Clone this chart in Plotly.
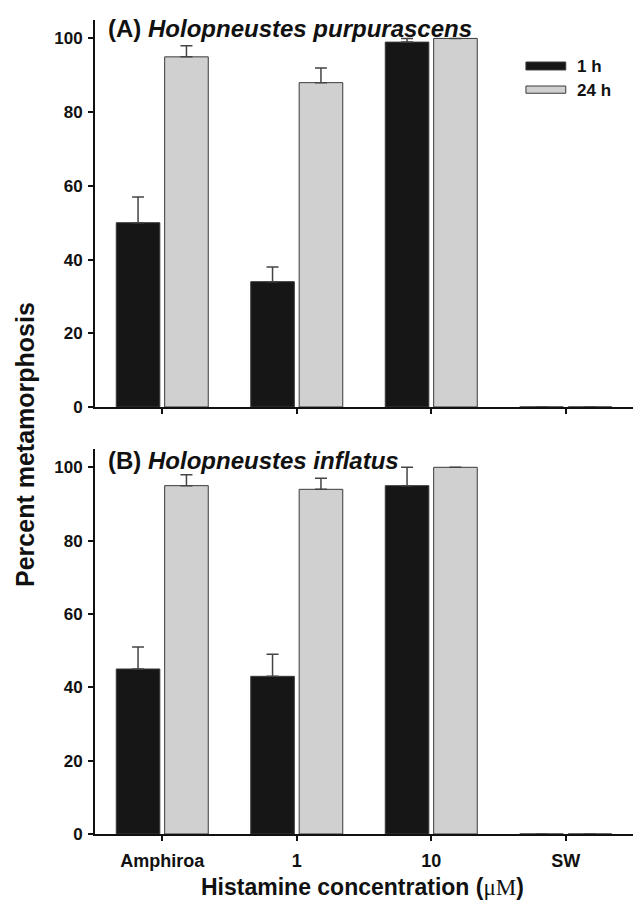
import plotly.graph_objects as go

categories = ["Amphiroa", "1", "10", "SW"]
series_names = ["1 h", "24 h"]

# Panel A: Holopneustes purpurascens (None = no error bar drawn)
a_1h = [50, 34, 99, 0]
a_1h_err = [7, 4, 1, None]
a_24h = [95, 88, 100, 0]
a_24h_err = [3, 4, None, None]

# Panel B: Holopneustes inflatus
b_1h = [45, 43, 95, 0]
b_1h_err = [6, 6, 5, None]
b_24h = [95, 94, 100, 0]
b_24h_err = [3, 3, None, None]

yticks = [0, 20, 40, 60, 80, 100]

BLACK = "#161616"
GREY = "#d0d0d0"
EDGE = "#3a3a3a"
FONT = "Liberation Sans, Arial, sans-serif"

fig = go.Figure()

def add_bars(vals, errs, color, xa, ya, name):
    fig.add_trace(go.Bar(
        x=categories, y=vals, name=name, xaxis=xa, yaxis=ya,
        marker=dict(color=color, line=dict(color=EDGE, width=1)),
        error_y=dict(type="data", array=errs, arrayminus=[0]*len(errs),
                     symmetric=False, color="#444444", thickness=1.5, width=6),
        showlegend=False,
    ))

add_bars(a_1h, a_1h_err, BLACK, "x", "y", series_names[0])
add_bars(a_24h, a_24h_err, GREY, "x", "y", series_names[1])
add_bars(b_1h, b_1h_err, BLACK, "x2", "y2", series_names[0])
add_bars(b_24h, b_24h_err, GREY, "x2", "y2", series_names[1])

def axis_common(size):
    return dict(showline=True, linecolor="#111111", linewidth=2,
                ticks="outside", ticklen=5, tickwidth=1.5, tickcolor="#111111",
                showgrid=False, zeroline=False,
                tickfont=dict(family=FONT, size=size, color="#111111", weight="bold"))

fig.update_layout(
    width=635, height=902,
    margin=dict(l=95, r=2, t=20, b=68),
    paper_bgcolor="white", plot_bgcolor="white",
    barmode="group", bargap=0.28, bargroupgap=0.1,
    font=dict(family=FONT, color="#111111"),
    xaxis=dict(domain=[0, 1], anchor="y", range=[-0.5, 3.5], type="category",
               showticklabels=False, **axis_common(18)),
    yaxis=dict(domain=[0.5246, 1.0], anchor="x", range=[0, 105],
               tickvals=yticks, ticklabelstandoff=2, **axis_common(17)),
    xaxis2=dict(domain=[0, 1], anchor="y2", range=[-0.5, 3.5], type="category",
                ticklabelstandoff=4, **axis_common(18)),
    yaxis2=dict(domain=[0, 0.473], anchor="x2", range=[0, 105],
                tickvals=yticks, ticklabelstandoff=2, **axis_common(17)),
)

# Legend drawn manually
leg_x0, leg_x1 = 0.801, 0.875
for (y0, y1, col, lab, yc) in [(0.9386, 0.9484, BLACK, series_names[0], 0.9423),
                              (0.910, 0.9189, GREY, series_names[1], 0.9128)]:
    fig.add_shape(type="rect", xref="paper", yref="paper", x0=leg_x0, x1=leg_x1,
                  y0=y0, y1=y1, fillcolor=col, line=dict(color=EDGE, width=1))
    fig.add_annotation(xref="paper", yref="paper", x=0.893, y=yc, text="<b>%s</b>" % lab,
                       showarrow=False, xanchor="left", yanchor="middle",
                       font=dict(family=FONT, size=17, color="#111111"))

# Panel titles
fig.add_annotation(xref="paper", yref="paper", x=0.020, y=0.990,
                   text="<b>(A) <i>Holopneustes purpurascens</i></b>",
                   showarrow=False, xanchor="left", yanchor="middle",
                   font=dict(family=FONT, size=24, color="#111111"))
fig.add_annotation(xref="paper", yref="paper", x=0.020, y=0.4588,
                   text="<b>(B) <i>Holopneustes inflatus</i></b>",
                   showarrow=False, xanchor="left", yanchor="middle",
                   font=dict(family=FONT, size=24, color="#111111"))

# Axis titles
fig.add_annotation(xref="paper", yref="paper", x=-0.130, y=0.478,
                   text="<b>Percent metamorphosis</b>", textangle=-90,
                   showarrow=False, xanchor="center", yanchor="middle",
                   font=dict(family=FONT, size=25, color="#111111"))
fig.add_annotation(xref="paper", yref="paper", x=0.497, y=-0.0655,
                   text="<b>Histamine concentration (</b><span style='font-family:Liberation Serif'>μM</span><b>)</b>",
                   showarrow=False, xanchor="center", yanchor="middle",
                   font=dict(family=FONT, size=23, color="#111111"))

fig.write_html("out.html")
